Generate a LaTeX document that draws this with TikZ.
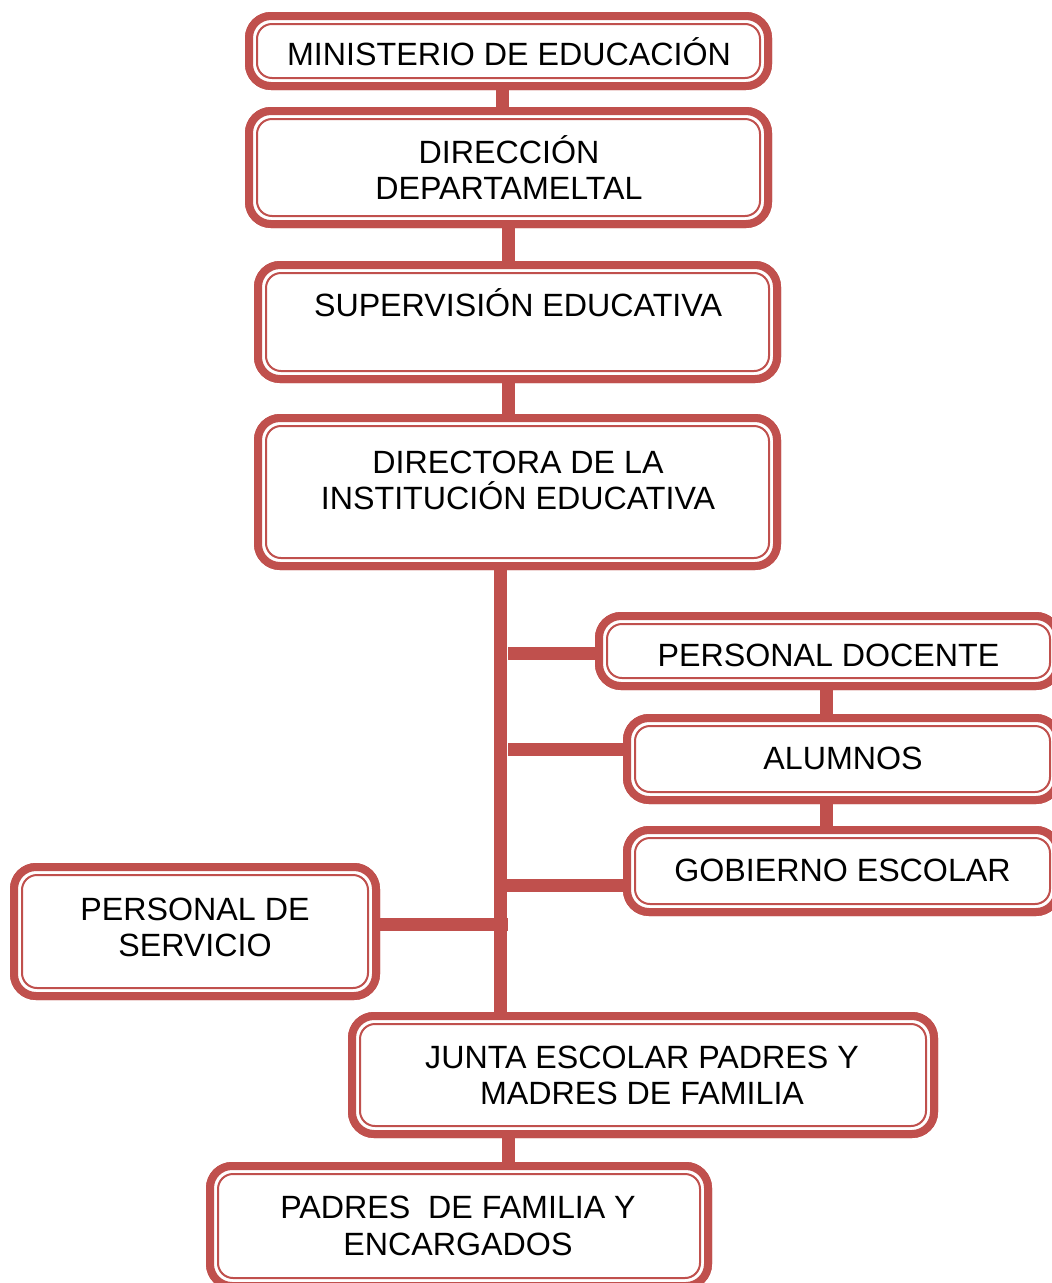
\documentclass[tikz,border=0pt]{standalone}
\usepackage{fontspec}
\setmainfont{Liberation Sans}
\definecolor{boxred}{HTML}{C0504D}
\begin{document}
\begin{tikzpicture}[x=1pt,y=-1pt,
  box/.style={draw=boxred,fill=white,line width=8pt,rounded corners=22pt,outer sep=0pt,inner sep=0pt},
  innerline/.style={draw=boxred,line width=2pt,rounded corners=15pt},
  conn/.style={draw=boxred,line width=13pt},
  txt/.style={inner sep=0pt,anchor=base,font=\fontsize{32.2}{36.5}\selectfont}]
\useasboundingbox (0,0) rectangle (1052,1283);
\clip (0,0) rectangle (1052,1283);
% box shapes (named)
\path
  node[box,minimum width=519pt,minimum height=70pt]  (b1)  at (508.5,51) {}
  node[box,minimum width=519pt,minimum height=113pt] (b2)  at (508.5,167.5) {}
  node[box,minimum width=519pt,minimum height=114pt] (b3)  at (517.5,322) {}
  node[box,minimum width=519pt,minimum height=148pt] (b4)  at (517.5,492) {}
  node[box,minimum width=459pt,minimum height=70pt]  (b5)  at (828.5,651) {}
  node[box,minimum width=431pt,minimum height=82pt]  (b6)  at (842.5,759) {}
  node[box,minimum width=431pt,minimum height=82pt]  (b7)  at (842.5,871) {}
  node[box,minimum width=362pt,minimum height=129pt] (b8)  at (195,931.5) {}
  node[box,minimum width=582pt,minimum height=118pt] (b9)  at (643,1075) {}
  node[box,minimum width=498pt,minimum height=120pt] (b10) at (459,1226) {};
% guide coordinates
\coordinate (xa) at (502,0);
\coordinate (xb) at (508,0);
\coordinate (xt) at (500,0);
\coordinate (xr) at (826,0);
\coordinate (ya) at (0,653);
\coordinate (yb) at (0,749);
\coordinate (yc) at (0,885);
\coordinate (yd) at (0,924.5);
% connectors
\draw[conn] (b1.south -| xa) -- (b2.north -| xa);
\draw[conn] (b2.south -| xb) -- (b3.north -| xb);
\draw[conn] (b3.south -| xb) -- (b4.north -| xb);
\draw[conn] (b4.south -| xt) -- (b9.north -| xt);
\draw[conn] (xb |- ya) -- (b5.west |- ya);
\draw[conn] (xb |- yb) -- (b6.west |- yb);
\draw[conn] (xt |- yc) -- (b7.west |- yc);
\draw[conn] (b8.east |- yd) -- (xb |- yd);
\draw[conn] (b5.south -| xr) -- (b6.north -| xr);
\draw[conn] (b6.south -| xr) -- (b7.north -| xr);
\draw[conn] (b9.south -| xb) -- (b10.north -| xb);
% boxes drawn over the connectors
\foreach \n in {b1,b2,b3,b4,b5,b6,b7,b8,b9,b10}{
  \draw[box] (\n.north west) rectangle (\n.south east);
  \draw[innerline] ([shift={(8,8)}]\n.north west) rectangle ([shift={(-8,-8)}]\n.south east);
}
% texts
\node[txt] (t1)  at (509,65)    {MINISTERIO DE EDUCACIÓN};
\node[txt] (t2a) at (509,163.5) {DIRECCIÓN};
\node[txt] (t2b) at (509,199.5) {DEPARTAMELTAL};
\node[txt] (t3)  at (518,316.5) {SUPERVISIÓN EDUCATIVA};
\node[txt] (t4a) at (518,473.5) {DIRECTORA DE LA};
\node[txt] (t4b) at (518,509.5) {INSTITUCIÓN EDUCATIVA};
\node[txt] (t5)  at (828.5,666) {PERSONAL DOCENTE};
\node[txt] (t6)  at (843,769.5) {ALUMNOS};
\node[txt] (t7)  at (842.5,881.5) {GOBIERNO ESCOLAR};
\node[txt] (t8a) at (195,920.5) {PERSONAL DE};
\node[txt] (t8b) at (195,956.5) {SERVICIO};
\node[txt] (t9a) at (642,1068.5) {JUNTA ESCOLAR PADRES Y};
\node[txt] (t9b) at (642,1104.5) {MADRES DE FAMILIA};
\node[txt] (t10a) at (458,1218.5) {PADRES\ \ DE FAMILIA Y};
\node[txt] (t10b) at (458,1255.5) {ENCARGADOS};
\end{tikzpicture}
\end{document}
